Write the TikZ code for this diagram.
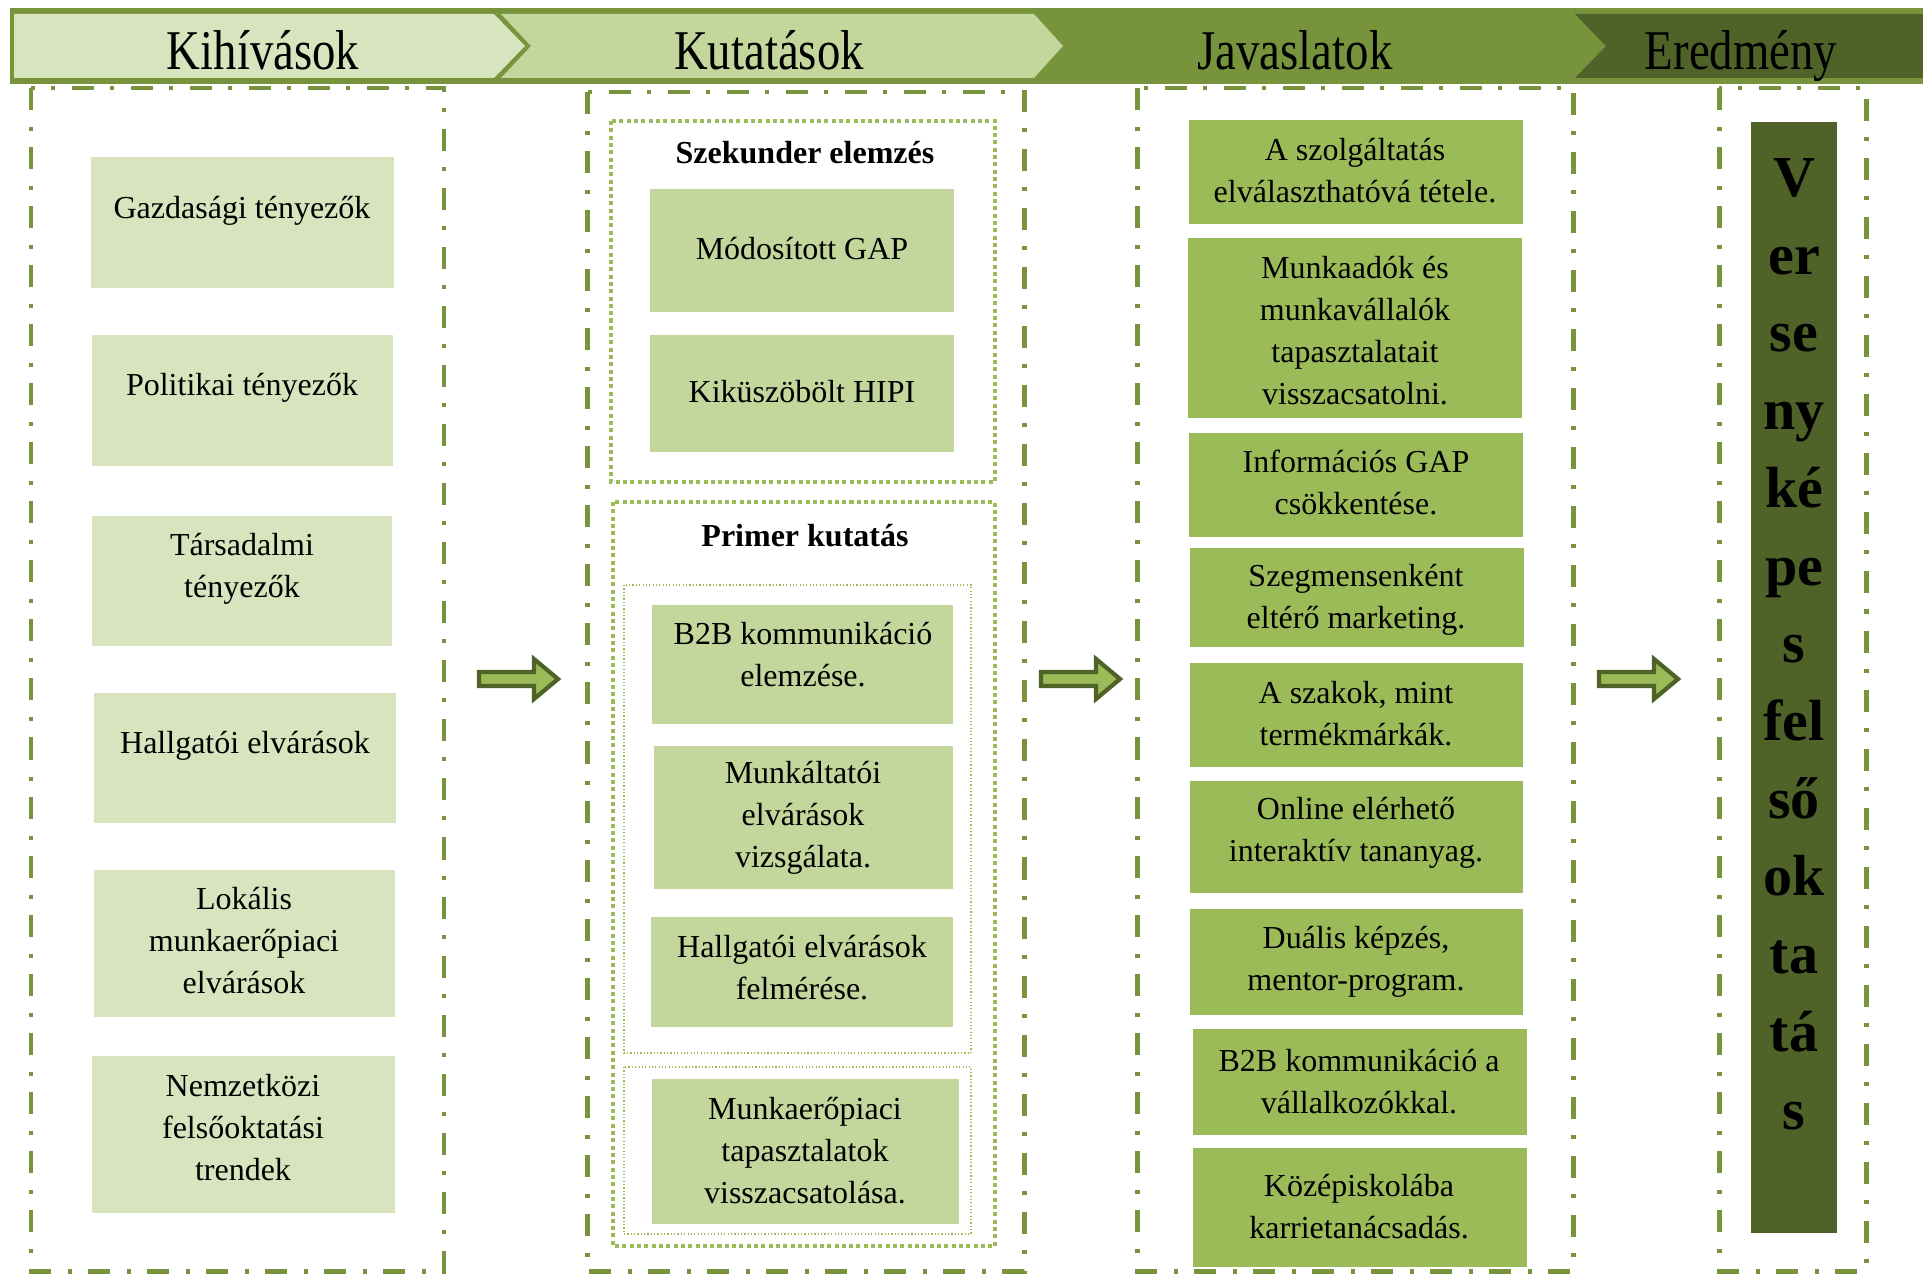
\documentclass[tikz,border=0pt]{standalone}
\usepackage{fontspec}
\setmainfont{Liberation Serif}
\usetikzlibrary{fit}
\definecolor{lightA}{HTML}{D7E4BD}
\definecolor{lightB}{HTML}{C3D69B}
\definecolor{midg}{HTML}{9BBB59}
\definecolor{oliveg}{HTML}{77933C}
\definecolor{darkg}{HTML}{4F6228}
\begin{document}
\begin{tikzpicture}[x=0.01cm,y=-0.01cm,
  frame/.style={draw=oliveg, line width=1.42pt, dash pattern=on 6.26pt off 4.84pt on 1.14pt off 4.55pt},
  dotframe/.style={draw=midg, line width=1.14pt, dash pattern=on 1.14pt off 0.94pt},
  thinframe/.style={draw=midg, line width=0.35pt, dash pattern=on 0.35pt off 0.6pt},
  boxA/.style={fill=lightA, inner sep=0pt},
  boxB/.style={fill=lightB, inner sep=0pt},
  boxC/.style={fill=midg, inner sep=0pt},
  txt/.style={font=\fontsize{9.1pt}{11.95pt}\selectfont, align=center, inner sep=0pt},
  btxt/.style={font=\fontsize{9.1pt}{11.95pt}\selectfont\bfseries, align=center, inner sep=0pt},
  head/.style={font=\fontsize{13.3pt}{15pt}\selectfont, inner sep=0pt, anchor=base},
  vtxt/.style={font=\fontsize{16.5pt}{22.1pt}\selectfont\bfseries, align=center, inner sep=0pt},
  blockarrow/.style={fill=midg, draw=darkg, line width=1.2pt, line join=miter}
]
\useasboundingbox (0,0) rectangle (1923,1276);

% header band
\fill[oliveg] (10,8) rectangle (1923,84);
\fill[lightA] (14,14) -- (494,14) -- (525,46) -- (494,78) -- (14,78) -- cycle;
\fill[lightB] (501,14) -- (1034,14) -- (1063,46) -- (1034,78) -- (501,78) -- (531,46) -- cycle;
\fill[darkg] (1575,14) -- (1923,14) -- (1923,78) -- (1575,78) -- (1606,46) -- cycle;
\node[head] (h1) at (263,70) {\scalebox{1}[1.2]{Kihívások}};
\node[head] (h2) at (769,70) {\scalebox{1}[1.2]{Kutatások}};
\node[head] (h3) at (1295,70) {\scalebox{1}[1.2]{Javaslatok}};
\node[head] (h4) at (1741,70) {\scalebox{1}[1.2]{Eredmény}};

% column frames
\draw[frame] (31,88) rectangle (444,1271);
\draw[frame] (587,92) rectangle (1024,1271);
\draw[frame] (1137,88) rectangle (1573,1271);
\draw[frame] (1719,88) rectangle (1866,1271);

% inner frames of column 2
\draw[dotframe] (611,121) rectangle (995,482);
\draw[dotframe] (613,502) rectangle (995,1246);
\draw[thinframe] (624,585) rectangle (971,1053);
\draw[thinframe] (624,1067) rectangle (971,1234);

% column 1
\node[boxA, fit={(91,157) (394,288)}] (g1) {};
\node[boxA, fit={(92,335) (393,466)}] (g2) {};
\node[boxA, fit={(92,516) (392,646)}] (g3) {};
\node[boxA, fit={(94,693) (396,823)}] (g4) {};
\node[boxA, fit={(94,870) (395,1017)}] (g5) {};
\node[boxA, fit={(92,1056) (395,1213)}] (g6) {};
\node[txt] (g1t) at (242,211) {Gazdasági tényezők};
\node[txt] (g2t) at (242,388) {Politikai tényezők};
\node[txt] (g3t) at (242,569) {Társadalmi\\tényezők};
\node[txt] (g4t) at (245,746) {Hallgatói elvárások};
\node[txt] (g5t) at (244,941) {Lokális\\munkaerőpiaci\\elvárások};
\node[txt] (g6t) at (243,1128) {Nemzetközi\\felsőoktatási\\trendek};

% column 2
\node[btxt] (s1) at (805,153) {Szekunder elemzés};
\node[btxt] (s2) at (805,536) {Primer kutatás};
\node[boxB, fit={(650,189) (954,312)}] (k1) {};
\node[boxB, fit={(650,335) (954,452)}] (k2) {};
\node[boxB, fit={(652,605) (953,724)}] (k3) {};
\node[boxB, fit={(654,746) (953,889)}] (k4) {};
\node[boxB, fit={(651,917) (953,1027)}] (k5) {};
\node[boxB, fit={(652,1079) (959,1224)}] (k6) {};
\node[txt] (k1t) at (802,249) {Módosított GAP};
\node[txt] (k2t) at (802,392) {Kiküszöbölt HIPI};
\node[txt] (k3t) at (803,655) {B2B kommunikáció\\elemzése.};
\node[txt] (k4t) at (803,818) {Munkáltatói\\elvárások\\vizsgálata.};
\node[txt] (k5t) at (802,968) {Hallgatói elvárások\\felmérése.};
\node[txt] (k6t) at (805,1151) {Munkaerőpiaci\\tapasztalatok\\visszacsatolása.};

% column 3
\node[boxC, fit={(1189,120) (1523,224)}] (j1) {};
\node[boxC, fit={(1188,238) (1522,418)}] (j2) {};
\node[boxC, fit={(1189,433) (1523,537)}] (j3) {};
\node[boxC, fit={(1190,548) (1524,647)}] (j4) {};
\node[boxC, fit={(1190,663) (1523,767)}] (j5) {};
\node[boxC, fit={(1190,781) (1523,893)}] (j6) {};
\node[boxC, fit={(1190,909) (1523,1015)}] (j7) {};
\node[boxC, fit={(1193,1029) (1527,1135)}] (j8) {};
\node[boxC, fit={(1193,1148) (1527,1267)}] (j9) {};
\node[txt] (j1t) at (1355,171) {A szolgáltatás\\elválaszthatóvá tétele.};
\node[txt] (j2t) at (1355,331) {Munkaadók és\\munkavállalók\\tapasztalatait\\visszacsatolni.};
\node[txt] (j3t) at (1356,482) {Információs GAP\\csökkentése.};
\node[txt] (j4t) at (1356,600) {Szegmensenként\\eltérő marketing.};
\node[txt] (j5t) at (1356,714) {A szakok, mint\\termékmárkák.};
\node[txt] (j6t) at (1356,833) {Online elérhető\\interaktív tananyag.};
\node[txt] (j7t) at (1356,962) {Duális képzés,\\mentor-program.};
\node[txt] (j8t) at (1359,1082) {B2B kommunikáció a\\vállalkozókkal.};
\node[txt] (j9t) at (1359,1207) {Középiskolába\\karrietanácsadás.};

% column 4
\node[fill=darkg, inner sep=0pt, fit={(1751,122) (1837,1233)}] (e1) {};
\node[vtxt] (e1t) at (1794,644) {V\\er\\se\\ny\\ké\\pe\\s\\fel\\ső\\ok\\ta\\tá\\s};

% block arrows
\foreach \x/\n in {477/a1,1039/a2,1597/a3}{
  \coordinate (\n) at (\x,679);
  \draw[blockarrow] ([xshift=0.02cm]\n) ++(0,-7) -- ++(55,0) -- ++(0,-13) -- ++(24,20) -- ++(-24,20) -- ++(0,-13) -- ++(-55,0) -- cycle;
}
\end{tikzpicture}
\end{document}
